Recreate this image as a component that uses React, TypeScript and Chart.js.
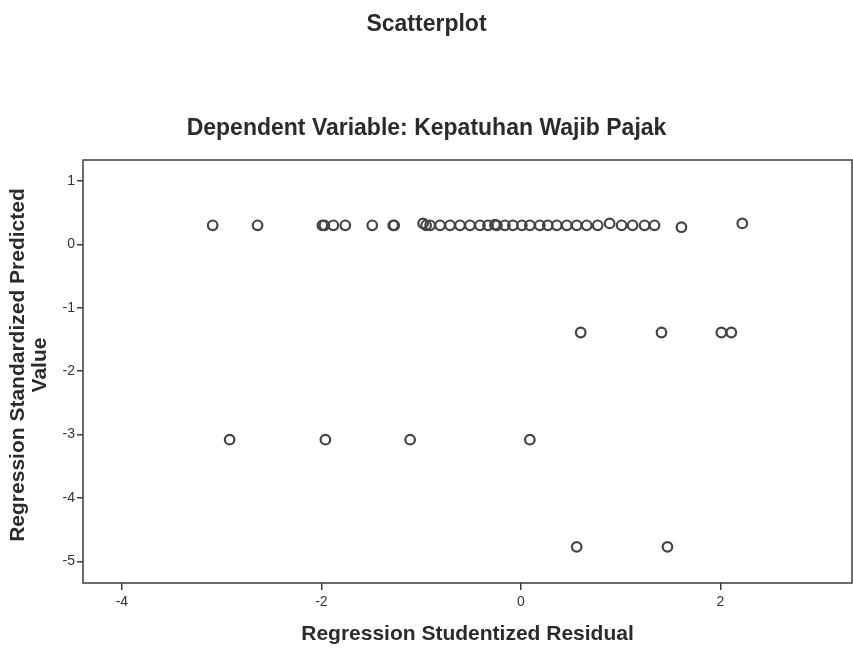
import React, { useEffect, useRef } from "react";
import { Chart, registerables } from "chart.js";

Chart.register(...registerables);

// ---- data ----
const residuals: number[] = [
  -3.09, -2.64, -1.99, -1.97, -1.88, -1.76, -1.49, -1.28, -1.27, -0.98,
  -0.95, -0.91, -0.81, -0.71, -0.61, -0.51, -0.41, -0.33, -0.26, -0.24,
  -0.16, -0.08, 0.01, 0.09, 0.19, 0.27, 0.36, 0.46, 0.56, 0.66,
  0.77, 0.89, 1.01, 1.12, 1.24, 1.34, 1.61, 2.22,
  0.6, 1.41, 2.01, 2.11,
  -2.92, -1.96, -1.11, 0.09,
  0.56, 1.47,
];
const predicted: number[] = [
  0.3, 0.3, 0.3, 0.3, 0.3, 0.3, 0.3, 0.3, 0.3, 0.33,
  0.3, 0.3, 0.3, 0.3, 0.3, 0.3, 0.3, 0.3, 0.31, 0.3,
  0.3, 0.3, 0.3, 0.3, 0.3, 0.3, 0.3, 0.3, 0.3, 0.3,
  0.3, 0.33, 0.3, 0.3, 0.3, 0.3, 0.27, 0.33,
  -1.39, -1.39, -1.39, -1.39,
  -3.08, -3.08, -3.08, -3.08,
  -4.77, -4.77,
];
const xTickValues: number[] = [-4, -2, 0, 2];
const yTickValues: number[] = [1, 0, -1, -2, -3, -4, -5];
const xRange: number[] = [-4.39, 3.32];
const yRange: number[] = [-5.34, 1.33];

const chartTitle = "Scatterplot";
const chartSubtitle = "Dependent Variable: Kepatuhan Wajib Pajak";
const xAxisTitle = "Regression Studentized Residual";
const yAxisTitleLines: string[] = ["Regression Standardized Predicted", "Value"];

const FONT = "'Liberation Sans', Arial, sans-serif";
const INK = "#2b2b2b";
const FRAME = "#3c3c3c";
const VIEW_W = 853;
const VIEW_H = 649;
const CANVAS_W = 859;

const textPlugin = {
  id: "spssText",
  afterDraw(chart: any) {
    const ctx = chart.ctx as CanvasRenderingContext2D;
    const area = chart.chartArea;
    ctx.save();
    ctx.strokeStyle = FRAME;
    ctx.lineWidth = 1.5;
    ctx.strokeRect(area.left, area.top, area.right - area.left, area.bottom - area.top);

    ctx.fillStyle = INK;
    ctx.textAlign = "center";
    ctx.textBaseline = "middle";
    ctx.font = `bold 23px ${FONT}`;
    ctx.fillText(chartTitle, VIEW_W / 2, 25);
    ctx.fillText(chartSubtitle, VIEW_W / 2, 129);

    ctx.font = `bold 21px ${FONT}`;
    ctx.fillText(xAxisTitle, (area.left + area.right) / 2, 634);

    ctx.translate(0, 365);
    ctx.rotate(-Math.PI / 2);
    ctx.fillText(yAxisTitleLines[0], 0, 18);
    ctx.fillText(yAxisTitleLines[1], 0, 40);
    ctx.restore();
  },
};

export default function App() {
  const ref = useRef<HTMLCanvasElement | null>(null);
  useEffect(() => {
    if (!ref.current) return;
    const points = residuals.map((x, i) => ({ x, y: predicted[i] }));
    const chart = new Chart(ref.current, {
      type: "scatter",
      data: {
        datasets: [
          {
            data: points,
            pointStyle: "circle",
            pointRadius: 4.8,
            pointBorderWidth: 2.2,
            borderColor: "#444",
            backgroundColor: "rgba(0,0,0,0)",
            pointBackgroundColor: "rgba(0,0,0,0)",
            pointBorderColor: "#444",
          },
        ],
      },
      options: {
        animation: false,
        responsive: false,
        devicePixelRatio: 1,
        layout: { padding: { top: 160, right: 1, bottom: 0, left: 0 } },
        plugins: {
          legend: { display: false },
          tooltip: { enabled: false },
          title: { display: false },
        },
        scales: {
          x: {
            type: "linear",
            min: xRange[0],
            max: xRange[1],
            afterBuildTicks: (scale: any) => {
              scale.ticks = xTickValues.map((v) => ({ value: v }));
            },
            afterFit: (scale: any) => {
              scale.height = 66;
            },
            border: { display: false },
            grid: {
              drawOnChartArea: false,
              drawTicks: true,
              tickLength: 7,
              color: FRAME,
              lineWidth: 1.5,
            },
            ticks: {
              padding: 4,
              color: "#333",
              font: { family: FONT, size: 14 },
              maxRotation: 0,
              callback: (v: any) => String(v),
            },
          },
          y: {
            type: "linear",
            min: yRange[0],
            max: yRange[1],
            afterBuildTicks: (scale: any) => {
              scale.ticks = yTickValues.map((v) => ({ value: v }));
            },
            afterFit: (scale: any) => {
              scale.width = 83;
            },
            border: { display: false },
            grid: {
              drawOnChartArea: false,
              drawTicks: true,
              tickLength: 6,
              color: FRAME,
              lineWidth: 1.5,
            },
            ticks: {
              padding: 2,
              color: "#333",
              font: { family: FONT, size: 14 },
              callback: (v: any) => String(v),
            },
          },
        },
      },
      plugins: [textPlugin],
    });
    return () => chart.destroy();
  }, []);

  return (
    <div
      style={{
        position: "absolute",
        left: 0,
        top: 0,
        width: VIEW_W,
        height: VIEW_H,
        overflow: "hidden",
        background: "#fff",
      }}
    >
      <canvas ref={ref} width={CANVAS_W} height={VIEW_H} style={{ display: "block" }} />
    </div>
  );
}
